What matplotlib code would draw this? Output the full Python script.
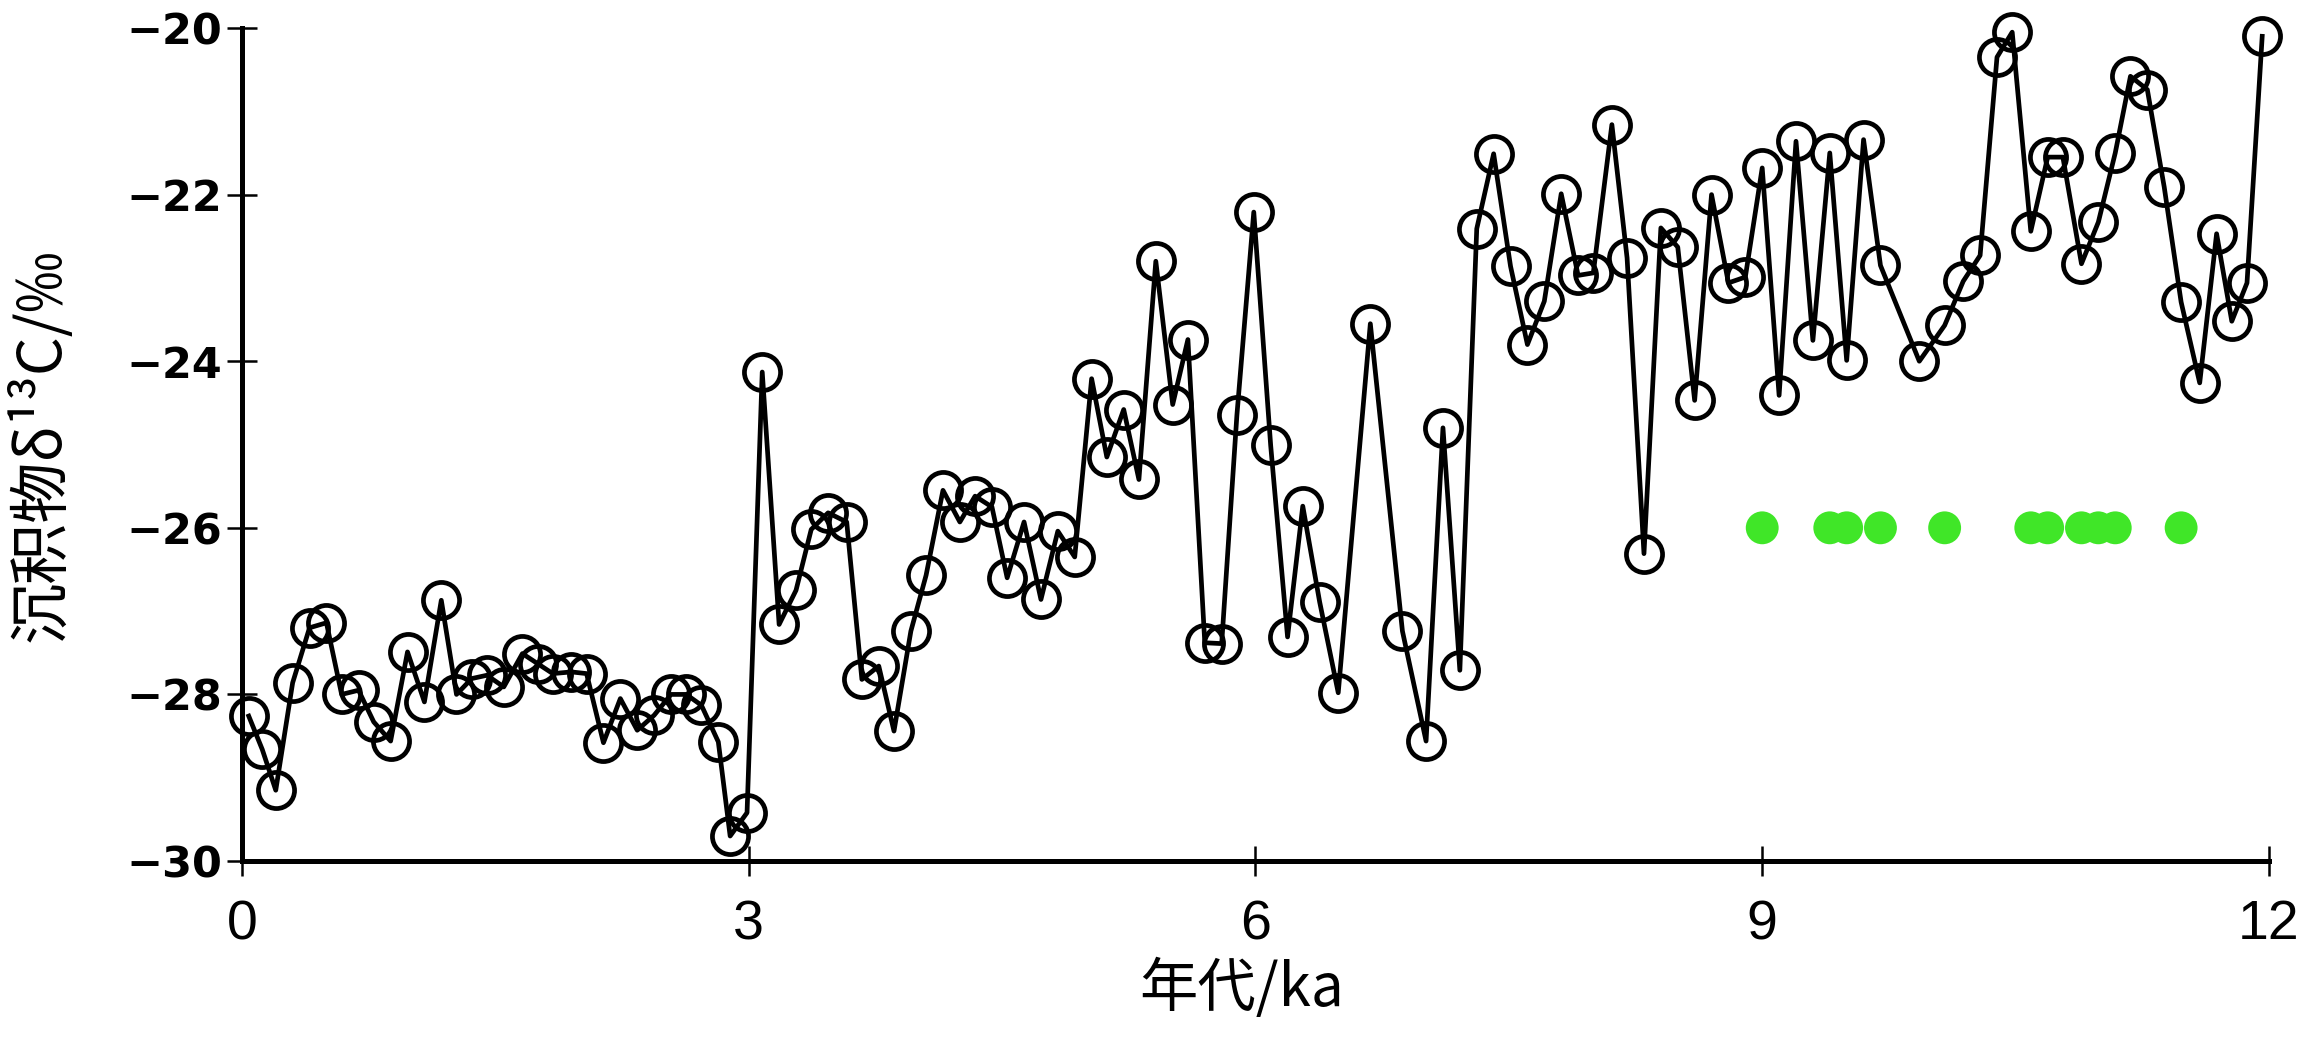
import matplotlib
matplotlib.use("Agg")
import matplotlib.pyplot as plt

# age (ka) and sediment d13C (per mil)
age = [0.04, 0.12, 0.20, 0.30, 0.40, 0.50, 0.59, 0.69, 0.78, 0.88,
       0.98, 1.08, 1.18, 1.27, 1.36, 1.45, 1.55, 1.66, 1.75, 1.84,
       1.95, 2.04, 2.14, 2.24, 2.34, 2.44, 2.54, 2.63, 2.72, 2.82,
       2.89, 2.99, 3.08, 3.18, 3.28, 3.37, 3.47, 3.58, 3.67, 3.77,
       3.86, 3.96, 4.05, 4.15, 4.25, 4.34, 4.44, 4.53, 4.63, 4.73,
       4.83, 4.93, 5.03, 5.12, 5.22, 5.31, 5.41, 5.51, 5.60, 5.70,
       5.80, 5.89, 5.99, 6.09, 6.19, 6.28, 6.38, 6.49, 6.68, 6.87,
       7.01, 7.11, 7.21, 7.31, 7.41, 7.51, 7.61, 7.71, 7.81, 7.91,
       8.00, 8.11, 8.20, 8.30, 8.40, 8.50, 8.60, 8.70, 8.80, 8.90,
       9.00, 9.10, 9.20, 9.30, 9.40, 9.50, 9.60, 9.70, 9.93, 10.08,
       10.19, 10.29, 10.39, 10.48, 10.59, 10.69, 10.78, 10.89, 10.99, 11.09,
       11.18, 11.28, 11.38, 11.48, 11.59, 11.69, 11.78, 11.87, 11.96]
d13c = [-28.26, -28.66, -29.15, -27.86, -27.20, -27.14, -28.00, -27.95, -28.33, -28.56,
        -27.49, -28.09, -26.87, -28.00, -27.81, -27.77, -27.91, -27.51, -27.63, -27.75,
        -27.73, -27.75, -28.58, -28.05, -28.43, -28.25, -28.00, -28.00, -28.13, -28.57,
        -29.70, -29.42, -24.13, -27.16, -26.75, -26.02, -25.82, -25.93, -27.82, -27.66,
        -28.44, -27.24, -26.57, -25.55, -25.93, -25.62, -25.75, -26.60, -25.93, -26.86,
        -26.04, -26.35, -24.21, -25.15, -24.58, -25.42, -22.80, -24.52, -23.74, -27.38,
        -27.39, -24.65, -22.21, -25.01, -27.31, -25.74, -26.89, -27.98, -23.55, -27.24,
        -28.56, -24.80, -27.71, -22.41, -21.51, -22.86, -23.80, -23.28, -21.99, -22.97,
        -22.94, -21.16, -22.76, -26.31, -22.40, -22.63, -24.47, -22.00, -23.06, -22.99,
        -21.68, -24.41, -21.36, -23.75, -21.50, -23.99, -21.34, -22.85, -24.00, -23.57,
        -23.04, -22.73, -20.35, -20.05, -22.44, -21.55, -21.55, -22.83, -22.33, -21.50,
        -20.58, -20.74, -21.91, -23.29, -24.26, -22.47, -23.52, -23.06, -20.10]

# green markers along the -26 line
green_age = [9.00, 9.40, 9.50, 9.70, 10.08, 10.59, 10.69, 10.89, 10.99, 11.09, 11.48]
green_val = [-26.0] * len(green_age)

x_ticks = [0, 3, 6, 9, 12]
y_ticks = [-30, -28, -26, -24, -22, -20]

fig = plt.figure(figsize=(23.2, 10.37), dpi=100)
ax = fig.add_axes([0.1043, 0.1697, 0.8737, 0.8033])

ax.plot(age, d13c, color="black", linewidth=3.4, marker="o", markersize=26,
        markerfacecolor="none", markeredgecolor="black", markeredgewidth=3.4,
        zorder=3, clip_on=False)
ax.scatter(green_age, green_val, s=560, color="#40e628", edgecolors="none", zorder=2)

ax.set_xlim(0, 12)
ax.set_ylim(-30, -20)
ax.set_xticks(x_ticks)
ax.set_yticks(y_ticks)

for side in ["top", "right"]:
    ax.spines[side].set_visible(False)
for side in ["left", "bottom"]:
    ax.spines[side].set_linewidth(3.6)

ax.tick_params(axis="both", direction="inout", length=21, width=1.8)
ax.tick_params(axis="y", pad=4, labelsize=31)
ax.tick_params(axis="x", pad=17, labelsize=40)

ax.set_xlabel("年代/ka", fontsize=42,
              family=["Noto Sans CJK SC", "DejaVu Sans"])
ax.xaxis.set_label_coords(0.493, -0.118)
ax.set_ylabel("沉积物δ¹³C/‰", fontsize=44,
              family=["Noto Sans CJK SC", "DejaVu Sans"])
ax.yaxis.set_label_coords(-0.083, 0.5)

plt.setp(ax.get_yticklabels(), fontweight="bold", family="DejaVu Sans")
plt.setp(ax.get_xticklabels(), family=["Liberation Sans Narrow", "Liberation Sans"])

fig.savefig("out.png", dpi=100)
plt.close(fig)
